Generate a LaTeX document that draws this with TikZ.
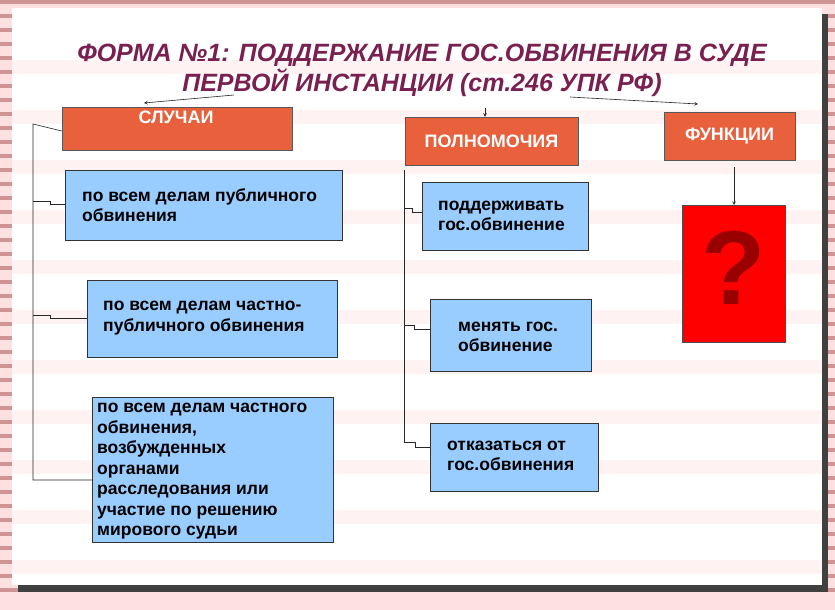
\documentclass[tikz,border=0pt]{standalone}
\usepackage{fontspec}
\setmainfont{Liberation Sans}
\begin{document}
\begin{tikzpicture}[x=1pt,y=-1pt,
  hdr/.style={draw=gray!70!black,fill=hdrc,text=white,font=\bfseries\fontsize{18}{20}\selectfont,inner sep=0},
  bluebox/.style={draw=black!80,fill=boxc,inner sep=0,anchor=north west},
  btxt/.style={anchor=west,font=\bfseries\fontsize{17.5}{20.5}\selectfont,align=left,inner sep=0},
  ln/.style={draw=black!85,line width=0.6pt},
  ar/.style={ln,->,>=stealth}]
\definecolor{hdrc}{HTML}{E8603C}
\definecolor{boxc}{HTML}{99CCFF}
\definecolor{titc}{HTML}{7A2050}
\useasboundingbox (0,0) rectangle (835,610);
\fill[red!12] (0,0) rectangle (835,610);
\foreach \y in {0,14,...,600}{\fill[red!40!gray!60!white] (0,\y) rectangle (835,\y+4);}
\fill[black!75] (18,14) rectangle (828,592);
\fill[white] (12,8) rectangle (822,585);
\foreach \y in {60,110,...,560}{\fill[red!5] (12,\y) rectangle (822,\y+14);}
\node[font=\bfseries\itshape\fontsize{25}{30}\selectfont,text=titc,align=center] (title) at (422,70) {ФОРМА №1: ПОДДЕРЖАНИЕ ГОС.ОБВИНЕНИЯ В СУДЕ\\ПЕРВОЙ ИНСТАНЦИИ (ст.246 УПК РФ)};
% headers
\node[hdr,minimum width=230,minimum height=43] (sl) at (177,128.5) {};
\node[text=white,font=\bfseries\fontsize{18}{20}\selectfont] (slt) at (176,117) {СЛУЧАИ};
\node[hdr,minimum width=173,minimum height=48] (pol) at (491.5,141) {ПОЛНОМОЧИЯ};
\node[hdr,minimum width=131,minimum height=48] (fun) at (729.5,136) {ФУНКЦИИ};
% blue boxes
\node[bluebox,minimum width=277,minimum height=70] (b1) at (65,170) {};
\node[btxt] (b1t) at (82,205) {по всем делам публичного\\обвинения};
\node[bluebox,minimum width=250,minimum height=77] (b2) at (87,280) {};
\node[btxt] (b2t) at (103,318) {по всем делам частно-\\публичного обвинения};
\node[bluebox,minimum width=241,minimum height=145] (b3) at (92,397) {};
\node[btxt,anchor=north west] (b3t) at (97,403) {по всем делам частного\\обвинения,\\возбужденных\\органами\\расследования или\\участие по решению\\мирового судьи};
\node[bluebox,minimum width=166,minimum height=68] (p1) at (422,182) {};
\node[btxt] (p1t) at (438,216) {поддерживать\\гос.обвинение};
\node[bluebox,minimum width=161,minimum height=72] (p2) at (430,299) {};
\node[btxt] (p2t) at (458,337) {менять гос.\\обвинение};
\node[bluebox,minimum width=168,minimum height=68] (p3) at (430,423) {};
\node[btxt] (p3t) at (447,456) {отказаться от\\гос.обвинения};
\node[draw=black!70,fill=red,minimum width=103,minimum height=137,inner sep=0,anchor=north west] (q) at (682,205) {};
\node[text=red!60!black,font=\bfseries\fontsize{105}{105}\selectfont] (qm) at (734,268) {?};
% arrows
\coordinate (ta) at (234,95);
\coordinate (tb) at (485,108);
\coordinate (tc) at (570,97);
\draw[ar] (ta) -- (144,103);
\draw[ar] (tb) -- (pol.north -| tb);
\draw[ar] (tc) -- (698,104);
\draw[ar] (734,167) -- (q.north -| 734,0);
% left bracket
\draw[ln] (sl.west |- 0,131) -- (33,124) -- (33,480) -- (b3.west |- 0,480);
\draw[ln] (33,201) -- (50,201) -- (50,204) -- (b1.west |- 0,204);
\draw[ln] (33,315) -- (50,315) -- (50,318) -- (b2.west |- 0,318);
% middle bracket
\draw[ln] (404,170) -- (404,442) -- (415,442) -- (415,447) -- (p3.west |- 0,447);
\draw[ln] (404,208) -- (412,208) -- (412,212) -- (p1.west |- 0,212);
\draw[ln] (404,325) -- (414,325) -- (414,329) -- (p2.west |- 0,329);
\end{tikzpicture}
\end{document}
